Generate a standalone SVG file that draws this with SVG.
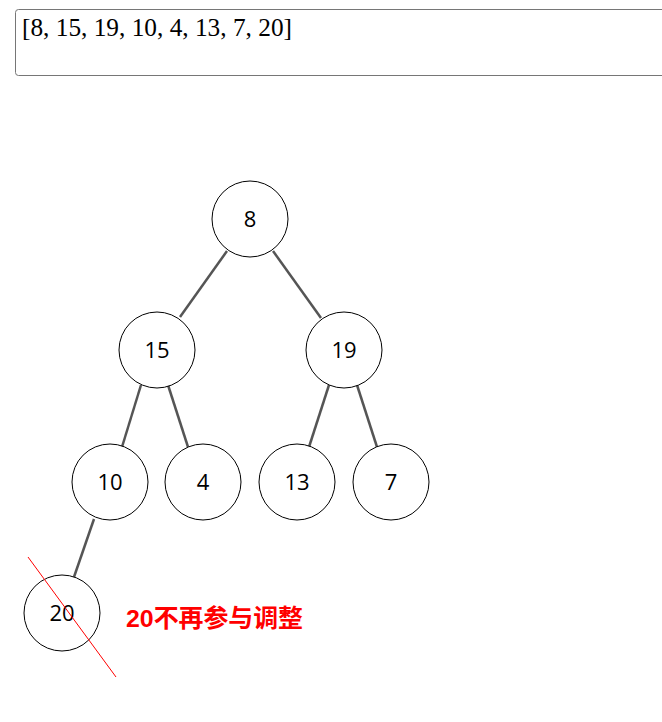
<svg xmlns="http://www.w3.org/2000/svg" width="662" height="722" viewBox="0 0 662 722">
<style>
.node circle{fill:#fff;stroke:#000;stroke-width:1}
.node text{font-family:"Segoe UI","Open Sans","Noto Sans","Liberation Sans",sans-serif;font-size:22px;text-anchor:middle;fill:#000}
.edge{stroke:#555;stroke-width:2.5;fill:none}
</style>
<rect x="0" y="0" width="662" height="722" fill="#fff"/>
<g id="input-box">
<rect x="15.5" y="9.5" width="660" height="66" rx="3" fill="#fff" stroke="#767676" stroke-width="1"/>
<text x="22" y="36" font-family="'Liberation Serif',serif" font-size="25" textLength="270" lengthAdjust="spacingAndGlyphs" fill="#000">[8, 15, 19, 10, 4, 13, 7, 20]</text>
</g>
<g id="connectors">
<line class="edge" x1="227" y1="251" x2="180" y2="317"/>
<line class="edge" x1="273" y1="251" x2="321" y2="318"/>
<line class="edge" x1="141" y1="385" x2="122" y2="447"/>
<line class="edge" x1="168" y1="385" x2="188" y2="447"/>
<line class="edge" x1="329" y1="385" x2="309" y2="447"/>
<line class="edge" x1="357" y1="385" x2="377" y2="447"/>
<line class="edge" x1="94" y1="519" x2="74" y2="577"/>
</g>
<g id="n8" class="node"><circle cx="250" cy="219" r="38"/><text x="250" y="227">8</text></g>
<g id="n15" class="node"><circle cx="157" cy="350" r="38"/><text x="157" y="358">15</text></g>
<g id="n19" class="node"><circle cx="344" cy="350" r="38"/><text x="344" y="358">19</text></g>
<g id="n10" class="node"><circle cx="110" cy="482" r="38"/><text x="110" y="490">10</text></g>
<g id="n4" class="node"><circle cx="203" cy="482" r="38"/><text x="203" y="490">4</text></g>
<g id="n13" class="node"><circle cx="297" cy="482" r="38"/><text x="297" y="490">13</text></g>
<g id="n7" class="node"><circle cx="391" cy="482" r="38"/><text x="391" y="490">7</text></g>
<g id="n20" class="node"><circle cx="62" cy="613" r="38"/><text x="62" y="621">20</text></g>
<line id="strike" x1="28" y1="557" x2="116" y2="677" stroke="#f00" stroke-width="1"/>
<text id="note" x="126" y="627" font-family="'Liberation Sans','Noto Sans CJK SC',sans-serif" font-size="24.5" font-weight="bold" fill="#f00" textLength="177" lengthAdjust="spacingAndGlyphs">20不再参与调整</text>
</svg>
